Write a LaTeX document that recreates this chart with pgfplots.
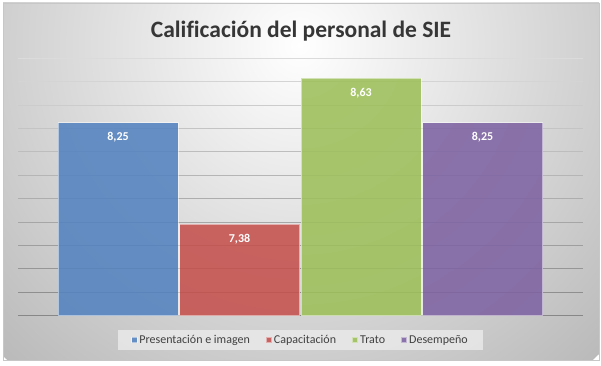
\documentclass[border=0pt]{standalone}
\usepackage{pgfplots}
\pgfplotsset{compat=1.18}
\usepackage{fontspec}
\setmainfont{Carlito}[Ligatures=NoCommon]
\definecolor{cblue}{HTML}{5483C0}
\definecolor{cred}{HTML}{C5514E}
\definecolor{cgreen}{HTML}{9DC05A}
\definecolor{cpurple}{HTML}{7E63A2}
\definecolor{ctext}{HTML}{404040}
\begin{document}
\begin{tikzpicture}[x=1pt,y=1pt]
\useasboundingbox (0,0) rectangle (601,365);
\fill[white] (0,0) rectangle (601,365);
\begin{scope}
\clip (3,5) rectangle (599,362);
\shade[inner color=white, outer color=black!27] (300,320) circle (430);
\end{scope}
\draw[black!22, line width=0.8pt] (3,5) rectangle (599,362);
\node[font=\fontsize{23.5}{26}\selectfont\bfseries, text=ctext!85!black] at (301,334) {Calificación del personal de SIE};
\begin{axis}[
  at={(18pt,49.3pt)}, anchor=south west,
  scale only axis, width=565pt, height=257.4pt,
  xmin=0.177, xmax=4.827, ymin=6.6, ymax=8.8,
  axis line style={draw=none}, xtick=\empty, ytick=\empty,
  clip=false,
  /pgf/number format/assume math mode=true,
  ybar, bar width=120pt,
  nodes near coords={\pgfmathprintnumber[use comma,fixed,fixed zerofill,precision=2]{\pgfplotspointmeta}},
  every node near coord/.append style={anchor=north, yshift=-6pt, text=white, font=\fontsize{12}{14}\selectfont\bfseries, fill opacity=1, text opacity=1},
  legend columns=4,
  legend style={at={(0.5,-0.094)}, anchor=center, draw=none, fill=white!92!black, fill opacity=0.8, text opacity=1,
    font=\fontsize{12}{14}\selectfont, text=ctext, inner xsep=13pt, inner ysep=3.5pt,
    /tikz/every even column/.append style={column sep=14pt}},
  legend image code/.code={\fill[#1] (0pt,-2.7pt) rectangle (5.4pt,2.7pt);},
]
\pgfplotsinvokeforeach{0,...,11}{
  \draw[black!\the\numexpr 14+33*#1/11\relax, line width=0.9pt] (axis cs:0.177,{8.8-#1*0.2}) -- (axis cs:4.827,{8.8-#1*0.2});
}
\addplot[fill=cblue, fill opacity=0.88, draw=white, draw opacity=0.5, line width=0.7pt, bar shift=0pt] coordinates {(1,8.25)};
\addlegendentry{Presentación e imagen}
\addplot[fill=cred, fill opacity=0.88, draw=white, draw opacity=0.5, line width=0.7pt, bar shift=0pt] coordinates {(2,7.38)};
\addlegendentry{Capacitación}
\addplot[fill=cgreen, fill opacity=0.88, draw=white, draw opacity=0.5, line width=0.7pt, bar shift=0pt] coordinates {(3,8.63)};
\addlegendentry{Trato}
\addplot[fill=cpurple, fill opacity=0.88, draw=white, draw opacity=0.5, line width=0.7pt, bar shift=0pt] coordinates {(4,8.25)};
\addlegendentry{Desempeño}
\end{axis}
\end{tikzpicture}
\end{document}
